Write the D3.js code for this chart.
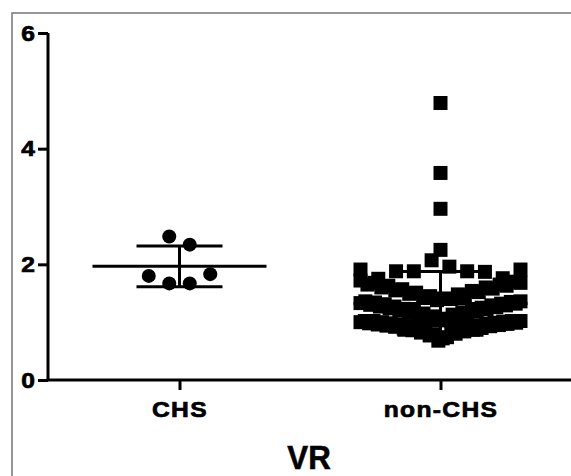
<!DOCTYPE html>
<html><head><meta charset="utf-8">
<script src="https://cdn.jsdelivr.net/npm/d3@7"></script>
<style>
html,body{margin:0;padding:0;background:#fff;}
svg{display:block;}
text{font-family:"Liberation Sans", Arial, Helvetica, sans-serif; font-weight:bold; fill:#000;}
</style></head><body>
<svg id="chart" width="571" height="476"></svg>
<script>
// ---------- data ----------
const categories = ["CHS", "non-CHS"];
const yTicks = [0, 2, 4, 6];
const axisTitle = "VR";
const chsValues = [1.67, 1.67, 1.80, 1.83, 2.48, 2.34];
const nonChsLow = [0.68, 0.72, 0.79, 0.74, 0.77, 0.82, 0.85, 0.80, 0.82, 0.87, 0.89, 0.84, 0.86, 0.91, 0.93, 0.87, 0.89, 0.94, 0.96,
                   0.90, 0.92, 0.97, 0.98, 0.93, 0.94, 0.99, 1.00, 0.95, 0.96, 1.01, 1.02, 0.97, 0.98, 1.02, 1.02, 0.99, 1.00, 1.02];
const nonChsMid = [1.03, 1.06, 1.10, 1.05, 1.08, 1.13, 1.15, 1.10, 1.12, 1.17, 1.19, 1.14, 1.16, 1.21, 1.23, 1.18, 1.20,
                   1.25, 1.27, 1.22, 1.24, 1.29, 1.31, 1.26, 1.27, 1.32, 1.34, 1.29, 1.30, 1.35, 1.36, 1.32, 1.33, 1.36];
const nonChsHigh = [1.38, 1.41, 1.45, 1.40, 1.43, 1.48, 1.51, 1.46, 1.49, 1.54, 1.57, 1.52,
                    1.55, 1.60, 1.63, 1.58, 1.60, 1.65, 1.68, 1.63, 1.65, 1.70, 1.72, 1.68];
const nonChsTop = [2.07, 1.96, 1.88, 1.88, 1.88, 1.87, 1.75, 1.76, 1.91, 1.91];
const nonChsOutliers = [2.25, 2.96, 3.58, 4.79];
const nonChsValues = [...nonChsLow, ...nonChsMid, ...nonChsHigh, ...nonChsTop, ...nonChsOutliers];

const groups = [
  {name: categories[0], values: chsValues, symbol: d3.symbolCircle, size: Math.PI * 7 * 7},
  {name: categories[1], values: nonChsValues, symbol: d3.symbolSquare, size: 14 * 14}
];

// ---------- layout ----------
const svg = d3.select("#chart");
const y = d3.scaleLinear().domain([0, 6]).range([380, 33]);
const x = d3.scalePoint().domain(categories).range([49, 571]).padding(0.5);

// frame
svg.append("rect").attr("x", 12).attr("y", 13).attr("width", 620).attr("height", 520)
  .attr("fill", "none").attr("stroke", "#7d7d7d").attr("stroke-width", 1.6);

// Prism-like row layout: values binned into rows, each row spread centre-out in data order
function rowLayout(values, rowHeight, maxSpan, maxStep) {
  const sorted = values.slice().sort((a, b) => a - b);
  const starts = [];
  for (const v of sorted) {
    if (!starts.length || v >= starts[starts.length - 1] + rowHeight - 1e-9) starts.push(v);
  }
  const rows = starts.map(() => []);
  values.forEach((v, i) => {
    let r = 0;
    for (let k = 0; k < starts.length; k++) if (v >= starts[k] - 1e-9) r = k;
    rows[r].push(i);
  });
  const out = new Array(values.length);
  rows.forEach(idx => {
    const n = idx.length;
    const s = n > 1 ? Math.min(maxStep, maxSpan / (n - 1)) : 0;
    idx.forEach((i, j) => {
      let off;
      if (n % 2 === 1) {
        const k = Math.ceil(j / 2);
        off = (j % 2 === 1 ? -1 : 1) * k * s;
      } else {
        const k = Math.floor(j / 2);
        off = (j % 2 === 0 ? -1 : 1) * (k + 0.5) * s;
      }
      out[i] = {v: values[i], dx: off};
    });
  });
  return out;
}

const gPts = svg.append("g");
groups.forEach(g => {
  const cx = x(g.name);
  const pts = rowLayout(g.values, 0.35, 160, 20.5);
  gPts.selectAll(null).data(pts).enter().append("path")
    .attr("d", d3.symbol().type(g.symbol).size(g.size))
    .attr("transform", d => `translate(${cx + d.dx},${y(d.v)})`)
    .attr("fill", "#000");
});

// mean and SD
const gStat = svg.append("g").attr("stroke", "#000").attr("stroke-width", 3).attr("fill", "none");
groups.forEach(g => {
  const cx = x(g.name);
  const m = d3.mean(g.values), sd = d3.deviation(g.values);
  gStat.append("line").attr("x1", cx - 87).attr("x2", cx + 87).attr("y1", y(m)).attr("y2", y(m));
  gStat.append("line").attr("x1", cx).attr("x2", cx).attr("y1", y(m - sd)).attr("y2", y(m + sd));
  [m - sd, m + sd].forEach(v => gStat.append("line").attr("x1", cx - 43).attr("x2", cx + 43).attr("y1", y(v)).attr("y2", y(v)));
});

// axes
const yAxis = svg.append("g").attr("transform", "translate(48,0)")
  .call(d3.axisLeft(y).tickValues(yTicks).tickFormat(d3.format("d")).tickSize(10).tickSizeOuter(0).tickPadding(3));
const xAxis = svg.append("g").attr("transform", "translate(0,380)")
  .call(d3.axisBottom(x).tickSize(10).tickSizeOuter(0).tickPadding(11));
[yAxis, xAxis].forEach(a => {
  a.attr("font-size", null).attr("font-family", null);
  a.select(".domain").attr("stroke", "#000").attr("stroke-width", 3);
  a.selectAll(".tick line").attr("stroke", "#000").attr("stroke-width", 3);
  a.selectAll("text").attr("fill", "#000")
    .style("font-size", "22px").style("font-weight", "bold")
    .style("font-family", '"Liberation Sans", Arial, sans-serif')
    .attr("stroke", "#000").attr("stroke-width", 0.7);
});
yAxis.select(".domain").attr("d", `M0,${y(0)}V${y(6)}`);
yAxis.selectAll(".tick text").attr("x", -13 / 1.12).attr("transform", "scale(1.12,1)");
xAxis.select(".domain").attr("d", `M46.5,0H571`);
xAxis.selectAll(".tick text").attr("x", 0).attr("transform", "scale(1.12,1)")
  .style("letter-spacing", "1.2px");

// axis title
svg.append("text").attr("transform", `translate(${(49 + 571) / 2 - 1},468.5) scale(0.92,1)`)
  .attr("text-anchor", "middle").style("font-size", "34px")
  .attr("stroke", "#000").attr("stroke-width", 0.6).text(axisTitle);
</script>
</body></html>
